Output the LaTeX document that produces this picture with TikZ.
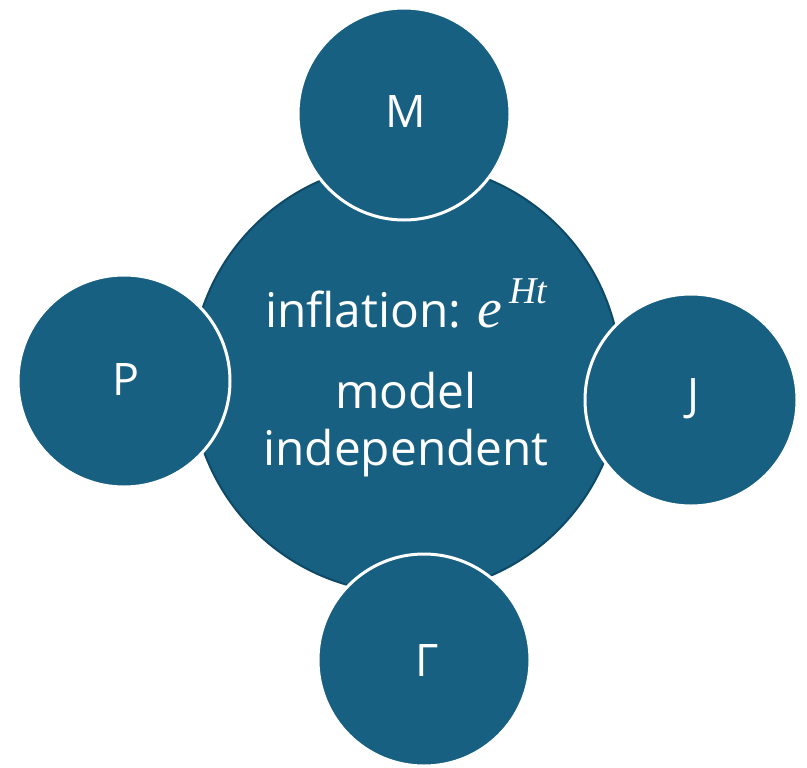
\documentclass[tikz,border=0pt]{standalone}
\usepackage{fontspec}
\setmainfont{Open Sans}
\newfontfamily\serifit{Liberation Serif}
\definecolor{fillblue}{HTML}{176082}
\definecolor{edgeblue}{HTML}{0E4A66}
\newcommand{\expHt}{{\serifit\itshape\fontsize{56}{56}\selectfont e\raisebox{0.42em}{\fontsize{38}{38}\selectfont\,Ht}}}
\begin{document}
\begin{tikzpicture}[x=1bp,y=-1bp,
  bigcirc/.style={circle,fill=fillblue,draw=edgeblue,line width=2bp,minimum size=430bp,inner sep=0pt},
  smallcirc/.style={circle,fill=fillblue,draw=white,line width=3bp,minimum size=212bp,inner sep=0pt},
  lab/.style={text=white,font=\fontsize{45}{52}\selectfont},
  txt/.style={text=white,font=\fontsize{48}{57}\selectfont,align=center}]
\useasboundingbox (0,0) rectangle (807,768);
\node[bigcirc] (c) at (406,378) {};
\node[smallcirc] (m) at (404,114) {};
\node[smallcirc] (p) at (124,381) {};
\node[smallcirc] (j) at (691,400) {};
\node[smallcirc] (g) at (424,660) {};
\node[lab] (mt) at (406,111) {M};
\node[lab] (pt) at (126,379) {P};
\node[lab] (jt) at (693,399) {J};
\node[lab] (gt) at (427,660) {Γ};
\node[txt,anchor=base] (t1) at (406,327) {inflation: \expHt};
\node[txt,anchor=base] (t2) at (406,408) {model};
\node[txt,anchor=base] (t3) at (406,465) {independent};
\end{tikzpicture}
\end{document}
